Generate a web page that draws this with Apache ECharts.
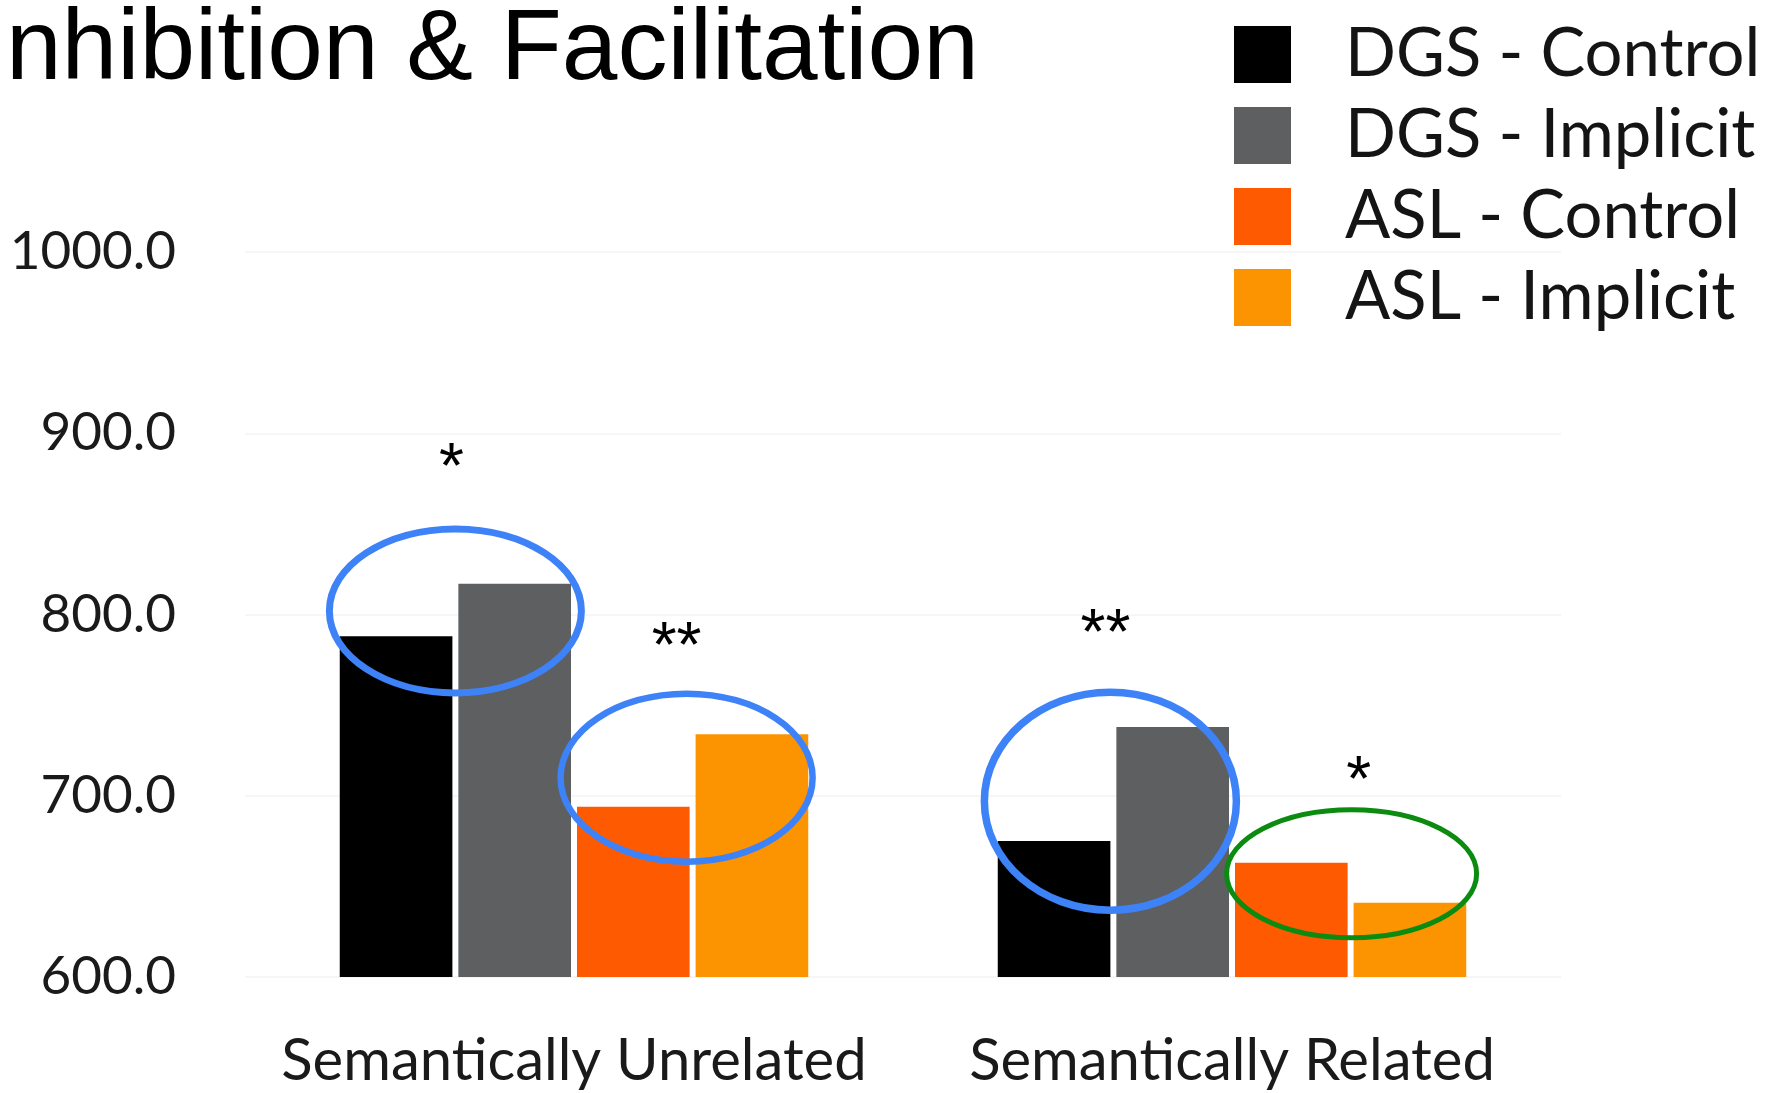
<!DOCTYPE html>
<html>
<head>
<meta charset="utf-8">
<style>
  html, body { margin: 0; padding: 0; background: #ffffff; }
  #chart { width: 1784px; height: 1093px; }
</style>
<script src="https://cdn.jsdelivr.net/npm/echarts@6/dist/echarts.min.js"></script>
</head>
<body>
<div id="chart"></div>
<script>
// Reaction times (ms) by condition
const categories = ['Semantically Unrelated', 'Semantically Related'];
const seriesNames = ['DGS - Control', 'DGS - Implicit', 'ASL - Control', 'ASL - Implicit'];
const dgsControl = [788, 675];
const dgsImplicit = [817, 738];
const aslControl = [694, 663];
const aslImplicit = [734, 641];
const yTicks = [600, 700, 800, 900, 1000];

// Significance marks: which category, which pair of series, and the mark text
const sigCategory = [0, 0, 1, 1];
const sigPairs = [[0, 1], [2, 3], [0, 1], [2, 3]];
const sigText = ['*', '**', '**', '*'];
const sigLevel = [888, 789, 796, 715];       // value height of the star text
const ringLevel = [802, 710, 697, 657];      // value height of the ring centre

const colors = ['#000000', '#5d5f61', '#fe5a02', '#fc9402'];
const ringStyle = [
  { color: '#3e82f7', rx: 126, ry: 82, w: 7, dx: 0 },
  { color: '#3e82f7', rx: 126, ry: 84, w: 6.5, dx: -6 },
  { color: '#3e82f7', rx: 126, ry: 109, w: 7.5, dx: -3 },
  { color: '#0b8b10', rx: 125, ry: 64, w: 5, dx: 1 }
];
const starDx = [-4, -16, -8, 8];

const labelFont = 'Lato, "Open Sans", sans-serif';
const chart = echarts.init(document.getElementById('chart'), null, { renderer: 'canvas' });

const values = [dgsControl, dgsImplicit, aslControl, aslImplicit];

chart.setOption({
  animation: false,
  backgroundColor: '#ffffff',
  grid: { left: 245, right: 223, top: 252, bottom: 116, containLabel: false },
  legend: {
    orient: 'vertical',
    left: 1229,
    top: 16,
    itemWidth: 57,
    itemHeight: 57,
    itemGap: 14,
    icon: 'rect',
    data: seriesNames,
    textStyle: {
      fontFamily: labelFont,
      fontSize: 67,
      color: '#141414',
      lineHeight: 57,
      padding: [0, 0, 0, 49]
    }
  },
  xAxis: {
    type: 'category',
    data: categories,
    axisLine: { show: false },
    axisTick: { show: false },
    axisLabel: {
      interval: 0,
      fontFamily: labelFont,
      fontSize: 58,
      lineHeight: 58,
      color: '#1a1a1a',
      margin: 55
    }
  },
  yAxis: {
    type: 'value',
    min: yTicks[0],
    max: yTicks[yTicks.length - 1],
    interval: 100,
    axisLine: { show: false },
    axisTick: { show: false },
    splitLine: { show: true, lineStyle: { color: '#f6f6f6', width: 2 } },
    axisLabel: {
      fontFamily: labelFont,
      fontSize: 53,
      color: '#1a1a1a',
      margin: 69,
      formatter: v => v.toFixed(1)
    }
  },
  series: seriesNames.map((name, i) => ({
    name: name,
    type: 'bar',
    data: values[i],
    barGap: '5.3%',
    barCategoryGap: '28.8%',
    itemStyle: { color: colors[i] }
  }))
});

// Title text across the top
const graphics = [{
  type: 'text',
  x: 6,
  y: 51,
  style: {
    text: 'nhibition & Facilitation',
    fontFamily: '"Liberation Sans", Arial, sans-serif',
    fontSize: 100,
    fill: '#000000',
    verticalAlign: 'middle'
  }
}];

// Rings and stars placed from the bar layout and the value axis
function pairCentre(cat, pair) {
  const a = chart.getModel().getSeriesByIndex(pair[0]).getData().getItemLayout(cat);
  const b = chart.getModel().getSeriesByIndex(pair[1]).getData().getItemLayout(cat);
  return (a.x + b.x + b.width) / 2;
}

sigText.forEach((t, k) => {
  const cx = pairCentre(sigCategory[k], sigPairs[k]);
  const ry = chart.convertToPixel({ yAxisIndex: 0 }, ringLevel[k]);
  const sy = chart.convertToPixel({ yAxisIndex: 0 }, sigLevel[k]);
  const rs = ringStyle[k];
  graphics.push({
    type: 'ellipse',
    shape: { cx: cx + rs.dx, cy: ry, rx: rs.rx, ry: rs.ry },
    style: { fill: 'none', stroke: rs.color, lineWidth: rs.w },
    z: 10
  });
  graphics.push({
    type: 'text',
    style: {
      x: cx + starDx[k], y: sy + 15,
      text: t,
      fontFamily: '"Liberation Sans", Arial, sans-serif',
      fontSize: 64,
      fill: '#000000',
      align: 'center',
      verticalAlign: 'middle'
    },
    z: 10
  });
});

chart.setOption({ graphic: graphics });
</script>
</body>
</html>
